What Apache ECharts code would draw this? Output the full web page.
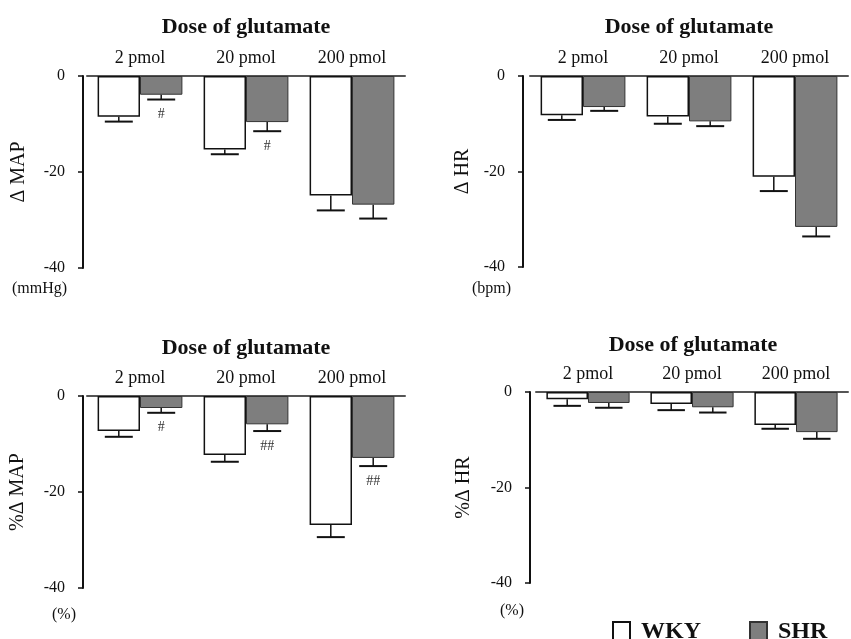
<!DOCTYPE html>
<html>
<head>
<meta charset="utf-8">
<script src="https://cdn.jsdelivr.net/npm/echarts@6/dist/echarts.min.js"></script>
<style>
  html, body { margin: 0; padding: 0; background: #fff; }
  #chart { width: 851px; height: 639px; }
</style>
</head>
<body>
<div id="chart"></div>
<script>
// dose categories (top axis)
var categories = ['2 pmol', '20 pmol', '200 pmol'];
var yTicks = [0, -20, -40];

// Δ MAP (mmHg)
var mapWKY = [-8.5, -15.3, -24.9];
var mapWKYErr = [1.0, 1.0, 3.1];
var mapSHR = [-3.9, -9.6, -26.8];
var mapSHRErr = [1.0, 1.9, 2.9];
var mapSig = ['#', '#', ''];

// Δ HR (bpm)
var hrWKY = [-8.2, -8.5, -21.1];
var hrWKYErr = [1.0, 1.5, 3.0];
var hrSHR = [-6.5, -9.5, -31.6];
var hrSHRErr = [0.8, 1.0, 2.0];
var hrSig = ['', '', ''];

// %Δ MAP
var pMapWKY = [-7.3, -12.3, -26.9];
var pMapWKYErr = [1.2, 1.4, 2.5];
var pMapSHR = [-2.5, -5.9, -12.9];
var pMapSHRErr = [1.0, 1.4, 1.7];
var pMapSig = ['#', '##', '##'];

// %Δ HR
var pHrWKY = [-1.5, -2.5, -6.9];
var pHrWKYErr = [1.4, 1.3, 0.8];
var pHrSHR = [-2.3, -3.2, -8.4];
var pHrSHRErr = [1.0, 1.1, 1.4];
var pHrSig = ['', '', ''];

var SERIF = '"Liberation Serif", "DejaVu Serif", serif';

var panels = [
  { name: 'Δ MAP', unit: '(mmHg)', wky: mapWKY, wkyErr: mapWKYErr, shr: mapSHR, shrErr: mapSHRErr, sig: mapSig,
    grid: { left: 87, top: 76, width: 318, height: 192 }, offset: 4, nameGap: 54,
    titleX: 241, titleY: 11, unitX: 12, unitY: 281 },
  { name: 'Δ HR', unit: '(bpm)', wky: hrWKY, wkyErr: hrWKYErr, shr: hrSHR, shrErr: hrSHRErr, sig: hrSig,
    grid: { left: 530, top: 76, width: 318, height: 191 }, offset: 7, nameGap: 50,
    titleX: 684, titleY: 11, unitX: 472, unitY: 281 },
  { name: '%Δ MAP', unit: '(%)', wky: pMapWKY, wkyErr: pMapWKYErr, shr: pMapSHR, shrErr: pMapSHRErr, sig: pMapSig,
    grid: { left: 87, top: 396, width: 318, height: 192 }, offset: 4, nameGap: 55,
    titleX: 241, titleY: 332, unitX: 52, unitY: 607 },
  { name: '%Δ HR', unit: '(%)', wky: pHrWKY, wkyErr: pHrWKYErr, shr: pHrSHR, shrErr: pHrSHRErr, sig: pHrSig,
    grid: { left: 536, top: 392, width: 312, height: 191 }, offset: 6, nameGap: 56,
    titleX: 688, titleY: 329, unitX: 500, unitY: 603 }
];

// error bars + significance marks, drawn under each bar
function errorRender (side) {
  return function (params, api) {
    var cat = api.value(0);
    var val = api.value(1);
    var err = api.value(2);
    var band = api.size([1, 0])[0];
    var barW = band * 0.4;
    var top = api.coord([cat, val]);
    var bot = api.coord([cat, val - err]);
    var x = top[0] + side * band * 0.2;
    var cap = barW * 0.33;
    var children = [
      { type: 'line', shape: { x1: x, y1: top[1], x2: x, y2: bot[1] }, style: { stroke: '#111', lineWidth: 1.5 } },
      { type: 'line', shape: { x1: x - cap, y1: bot[1], x2: x + cap, y2: bot[1] }, style: { stroke: '#111', lineWidth: 2 } }
    ];
    var sig = api.value(3);
    if (sig) {
      children.push({
        type: 'text',
        style: { text: sig, x: x, y: bot[1] + 15, align: 'center', verticalAlign: 'middle',
          font: '14px ' + SERIF, fill: '#333' }
      });
    }
    return { type: 'group', children: children };
  };
}

var grids = [], xAxes = [], yAxes = [], series = [], titles = [], graphics = [];

panels.forEach(function (p, i) {
  grids.push(p.grid);
  titles.push({
    text: 'Dose of glutamate', left: p.titleX, top: p.titleY, textAlign: 'center',
    textStyle: { fontFamily: SERIF, fontSize: 22, fontWeight: 'bold', color: '#111' }
  });
  xAxes.push({
    type: 'category', gridIndex: i, data: categories, position: 'top',
    axisLine: { lineStyle: { color: '#555', width: 2 } },
    axisTick: { show: false },
    axisLabel: { fontFamily: SERIF, fontSize: 18, color: '#111', margin: 9 }
  });
  yAxes.push({
    type: 'value', gridIndex: i, min: -40, max: 0, interval: 20, offset: p.offset,
    name: p.name, nameLocation: 'middle', nameGap: p.nameGap, nameRotate: 90,
    nameTextStyle: { fontFamily: SERIF, fontSize: 20, color: '#111' },
    axisLine: { show: true, lineStyle: { color: '#111', width: 2 } },
    axisTick: { show: true, length: 5, lineStyle: { color: '#111', width: 1.5 } },
    axisLabel: { fontFamily: SERIF, fontSize: 16, color: '#111', margin: 18,
      formatter: function (v) { return yTicks.indexOf(v) >= 0 ? String(v) : ''; } },
    splitLine: { show: false }
  });
  series.push({
    name: 'WKY', type: 'bar', xAxisIndex: i, yAxisIndex: i, data: p.wky,
    barGap: '0%', barCategoryGap: '20%',
    itemStyle: { color: '#fff', borderColor: '#111', borderWidth: 1.5 }
  });
  series.push({
    name: 'SHR', type: 'bar', xAxisIndex: i, yAxisIndex: i, data: p.shr,
    barGap: '0%', barCategoryGap: '20%',
    itemStyle: { color: '#7e7e7e', borderColor: '#333', borderWidth: 1 }
  });
  series.push({
    type: 'custom', xAxisIndex: i, yAxisIndex: i, z: 5, silent: true,
    renderItem: errorRender(-1),
    data: p.wky.map(function (v, k) { return [k, v, p.wkyErr[k], '']; })
  });
  series.push({
    type: 'custom', xAxisIndex: i, yAxisIndex: i, z: 5, silent: true,
    renderItem: errorRender(1),
    data: p.shr.map(function (v, k) { return [k, v, p.shrErr[k], p.sig[k]]; })
  });
  graphics.push({
    type: 'text', left: p.unitX, top: p.unitY,
    style: { text: p.unit, font: '16px ' + SERIF, fill: '#111' }
  });
});

var chart = echarts.init(document.getElementById('chart'));
chart.setOption({
  backgroundColor: '#fff',
  animation: false,
  title: titles,
  grid: grids,
  xAxis: xAxes,
  yAxis: yAxes,
  series: series,
  graphic: graphics,
  legend: {
    data: ['WKY', 'SHR'], left: 612, top: 620, padding: 0, icon: 'rect',
    itemWidth: 17, itemHeight: 20, itemGap: 48,
    textStyle: { fontFamily: SERIF, fontSize: 24, fontWeight: 'bold', color: '#111', padding: [0, 0, 0, 6] }
  }
});
</script>
</body>
</html>
